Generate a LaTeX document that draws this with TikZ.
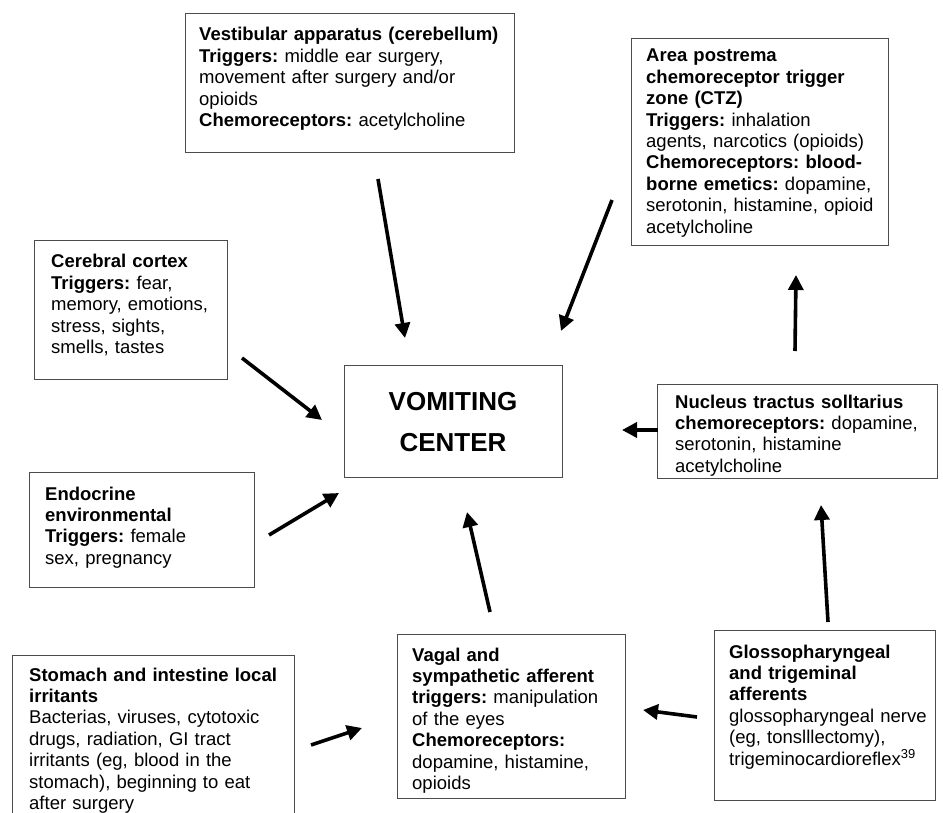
\documentclass[tikz,border=0pt]{standalone}
\usepackage{fontspec}
\setmainfont{Liberation Sans}
\usetikzlibrary{arrows.meta}
\frenchspacing

\begin{document}
\begin{tikzpicture}[x=1pt,y=-1pt,
	caixa/.style={draw=black!70,line width=1.3pt,inner sep=0pt,anchor=north west},
	texto/.style={anchor=base west,inner sep=0pt,text width=#1,align=left,font=\fontsize{18.5}{21.4}\selectfont},
	seta/.style={line width=3.6pt,-{Triangle[length=15pt,width=15pt]}}] %Estilos
	\clip (0,0) rectangle (943,813);
		%Caixas
	\node[caixa,minimum width=329,minimum height=139] (vest) at (185,13) {};
	\node[caixa,minimum width=257,minimum height=207] (ctz) at (631,38) {};
	\node[caixa,minimum width=193,minimum height=139] (cortex) at (34,240) {};
	\node[caixa,minimum width=218,minimum height=112] (vc) at (344,365) {};
	\node[caixa,minimum width=280,minimum height=94] (nts) at (657,384) {};
	\node[caixa,minimum width=225,minimum height=115] (endo) at (29,472) {};
	\node[caixa,minimum width=228,minimum height=164] (vagal) at (397,634) {};
	\node[caixa,minimum width=221,minimum height=170] (glosso) at (714,630) {};
	\node[caixa,minimum width=282,minimum height=180] (stomach) at (12,655) {};
		%Textos
	\node[texto=312] (vest-txt) at (199,41) {\textbf{Vestibular apparatus (cerebellum)}\\
		\textbf{Triggers:} middle ear surgery,\\ movement after surgery and/or\\ opioids\\
		\textbf{Chemoreceptors:} acetylcholine};
	\node[texto=240] (ctz-txt) at (646,62) {\textbf{Area postrema}\\ \textbf{chemoreceptor trigger}\\
		\textbf{zone (CTZ)}\\ \textbf{Triggers:} inhalation\\ agents, narcotics (opioids)\\
		\textbf{Chemoreceptors: blood-}\\ \textbf{borne emetics:} dopamine,\\
		serotonin, histamine, opioid\\ acetylcholine};
	\node[texto=175] (cortex-txt) at (51,268) {\textbf{Cerebral cortex}\\ \textbf{Triggers:} fear,\\
		memory, emotions,\\ stress, sights,\\ smells, tastes};
	\node[texto=205,align=center,font=\fontsize{26}{41}\selectfont\bfseries,anchor=center] (vc-txt) at (453,422) {VOMITING\\ CENTER};
	\node[texto=262] (nts-txt) at (675,408) {\textbf{Nucleus tractus solltarius}\\
		\textbf{chemoreceptors:} dopamine,\\ serotonin, histamine\\ acetylcholine};
	\node[texto=205] (endo-txt) at (45,500) {\textbf{Endocrine}\\ \textbf{environmental}\\
		\textbf{Triggers:} female\\ sex, pregnancy};
	\node[texto=212] (vagal-txt) at (412,661) {\textbf{Vagal and}\\ \textbf{sympathetic afferent}\\
		\textbf{triggers:} manipulation\\ of the eyes\\ \textbf{Chemoreceptors:}\\
		dopamine, histamine,\\ opioids};
	\node[texto=205] (glosso-txt) at (729,658) {\textbf{Glossopharyngeal}\\ \textbf{and trigeminal}\\
		\textbf{afferents}\\ glossopharyngeal nerve\\ (eg, tonslllectomy),\\
		trigeminocardioreflex\textsuperscript{39}};
	\node[texto=264] (stomach-txt) at (29,681) {\textbf{Stomach and intestine local}\\
		\textbf{irritants}\\ Bacterias, viruses, cytotoxic\\ drugs, radiation, GI tract\\
		irritants (eg, blood in the\\ stomach), beginning to eat\\ after surgery};
		%Pontas das setas
	\coordinate (vest-a) at (378,179);   \coordinate (vc-n) at (405,338);
	\coordinate (ctz-a) at (612,200);    \coordinate (vc-ne) at (561,331);
	\coordinate (cortex-a) at (242,358); \coordinate (vc-w) at (322,420);
	\coordinate (endo-a) at (269,535);   \coordinate (vc-sw) at (339,493);
	\coordinate (vagal-a) at (490,612);  \coordinate (vc-s) at (467,512);
	\coordinate (nts-a) at (658,430);    \coordinate (vc-e) at (622,430);
	\coordinate (nts-b) at (795,351);    \coordinate (ctz-s) at (796,275);
	\coordinate (glosso-a) at (828,622); \coordinate (nts-s) at (821,505);
	\coordinate (glosso-b) at (697,717); \coordinate (vagal-e) at (643,710);
	\coordinate (stomach-a) at (311,745);\coordinate (vagal-w) at (362,728);
		%Setas
	\draw[seta] (vest-a) -- (vc-n);
	\draw[seta] (ctz-a) -- (vc-ne);
	\draw[seta] (cortex-a) -- (vc-w);
	\draw[seta] (endo-a) -- (vc-sw);
	\draw[seta] (vagal-a) -- (vc-s);
	\draw[seta] (nts-a) -- (vc-e);
	\draw[seta] (nts-b) -- (ctz-s);
	\draw[seta] (glosso-a) -- (nts-s);
	\draw[seta] (glosso-b) -- (vagal-e);
	\draw[seta] (stomach-a) -- (vagal-w);
\end{tikzpicture}
\end{document}
